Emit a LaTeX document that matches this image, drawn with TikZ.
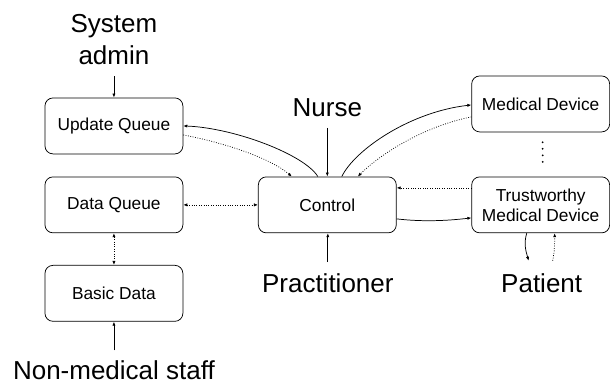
\documentclass[tikz,border=0pt]{standalone}
\usepackage{fontspec}
\setmainfont{Liberation Sans}
\usetikzlibrary{arrows.meta}
\usetikzlibrary{calc}

\begin{document}
\begin{tikzpicture}[x=0.75pt,y=0.75pt,yscale=-1,xscale=1,
  blk/.style={draw, rounded corners=6pt, minimum width=103.5pt, minimum height=42pt, inner sep=0pt, align=center, font=\fontsize{13}{15}\selectfont, line width=0.55pt},
  actor/.style={inner sep=0.75pt, align=center, font=\fontsize{19.5}{24}\selectfont},
  flow/.style={-{Latex[length=3pt,width=2.4pt]}, line width=0.55pt},
  back/.style={flow, dash pattern=on 0.6pt off 1.2pt},
  both/.style={{Latex[length=3pt,width=2.4pt]}-{Latex[length=3pt,width=2.4pt]}, line width=0.55pt, dash pattern=on 0.6pt off 1.2pt}]
%set diagram size 610 x 385
\path (0,0) rectangle (610,385);

%Shape: Rounded Rect
\node [blk] (upd) at (114,126) {Update Queue};
\node [blk] (dq) at (114,205) {Data Queue};
\node [blk] (bd) at (114,293.5) {Basic Data};
\node [blk] (ctrl) at (327.5,205) {Control};
\node [blk] (md) at (541,104) {Medical Device};
\node [blk] (tmd) at (541,205) {Trustworthy\\Medical Device};

% Text Node
\node [actor] (sys) at (114,40) {System\\admin};
% Text Node
\node [actor, anchor=base] (nurse) at (327.5,117) {Nurse};
% Text Node
\node [actor, anchor=base] (prac) at (328,293) {Practitioner};
% Text Node
\node [actor, anchor=base] (pat) at (542,293) {Patient};
% Text Node
\node [actor, anchor=base] (nms) at (114,380) {Non-medical staff};

%Straight Lines
\draw [flow, shorten <=7.5pt] (sys.south) -- (upd.north);
\draw [flow, shorten <=7pt] (nurse.south) -- (nurse.south |- ctrl.north);
\draw [flow, shorten <=8pt] (prac.north) -- (prac.north |- ctrl.south);
\draw [flow, shorten <=7pt] (nms.north) -- (nms.north |- bd.south);
\draw [both] (dq) -- (bd);
\draw [both] (dq) -- (ctrl);

%Curve Lines
\draw [flow] ($(ctrl.north)+(-9.5,0)$) .. controls (305,155) and (235,128) .. (upd.east);
\draw [back] ($(upd.east)+(0,9)$) .. controls (225,143) and (270,158) .. ($(ctrl.north)+(-35.5,0)$);
\draw [flow] ($(ctrl.north)+(14.5,0)$) .. controls (355,150) and (410,112) .. ($(md.west)+(0,1)$);
\draw [back] ($(md.west)+(0,13)$) .. controls (430,125) and (385,150) .. ($(ctrl.north)+(30.5,0)$);
\draw [back] ($(tmd.west)+(0,-17)$) -- ($(ctrl.east)+(0,-17)$);
\draw [flow] ($(ctrl.east)+(0,14)$) .. controls +(25,3) and +(-25,3) .. ($(tmd.west)+(0,13)$);
\draw [flow] ($(tmd.south)+(-14,0)$) .. controls +(-3,10) and +(-3,-10) .. ($(pat.north)+(-13,-12)$);
\draw [back] ($(pat.north)+(11,-12)$) .. controls +(2,-10) and +(0,10) .. ($(tmd.south)+(14,0)$);

%Dots
\draw [line width=1.5pt, dash pattern=on 0pt off 4.9pt, line cap=round, shorten <=7.5pt, shorten >=10.5pt] ($(md.south)+(2,0)$) -- ($(tmd.north)+(2,0)$);

\end{tikzpicture}
\end{document}
